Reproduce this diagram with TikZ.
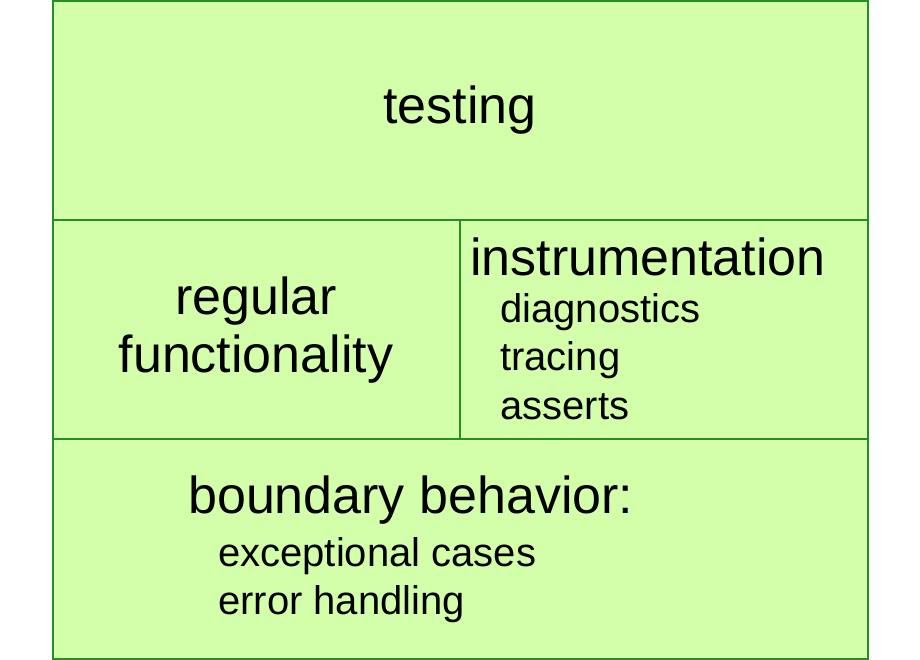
\documentclass[tikz,border=0pt]{standalone}
\usepackage{fontspec}
\setmainfont{Liberation Sans}
\usetikzlibrary{positioning}
\definecolor{boxfill}{RGB}{212,255,170}
\definecolor{boxline}{RGB}{40,140,40}
\tikzset{
    cell/.style={draw=boxline, fill=boxfill, line width=1.2pt},
    big/.style={font=\fontsize{52}{60}\selectfont, inner sep=0pt},
    small/.style={font=\fontsize{40}{48}\selectfont, inner sep=0pt, anchor=west},
}

\begin{document}
\begin{tikzpicture}[x=1pt,y=-1pt]
    \useasboundingbox (0,0) rectangle (920,660);

    % Cells
    \draw[cell] (53,1) rectangle (868,220);
    \draw[cell] (53,220) rectangle (460,439);
    \draw[cell] (460,220) rectangle (868,439);
    \draw[cell] (53,439) rectangle (868,659);

    % Top
    \node[big] (testing) at (460,110) {testing};

    % Middle left
    \node[big, align=center] (regular) at (256,330) {regular\\[-2pt]functionality};

    % Middle right
    \node[big, anchor=west] (instr) at (470,257) {instrumentation};
    \node[small] (diag) at (500,312) {diagnostics};
    \node[small] (trac) at (500,360) {tracing};
    \node[small] (asrt) at (500,407) {asserts};

    % Bottom
    \node[big, anchor=west] (bound) at (188,500) {boundary behavior:};
    \node[small] (exc) at (218,556) {exceptional cases};
    \node[small] (err) at (218,604) {error handling};
\end{tikzpicture}
\end{document}
